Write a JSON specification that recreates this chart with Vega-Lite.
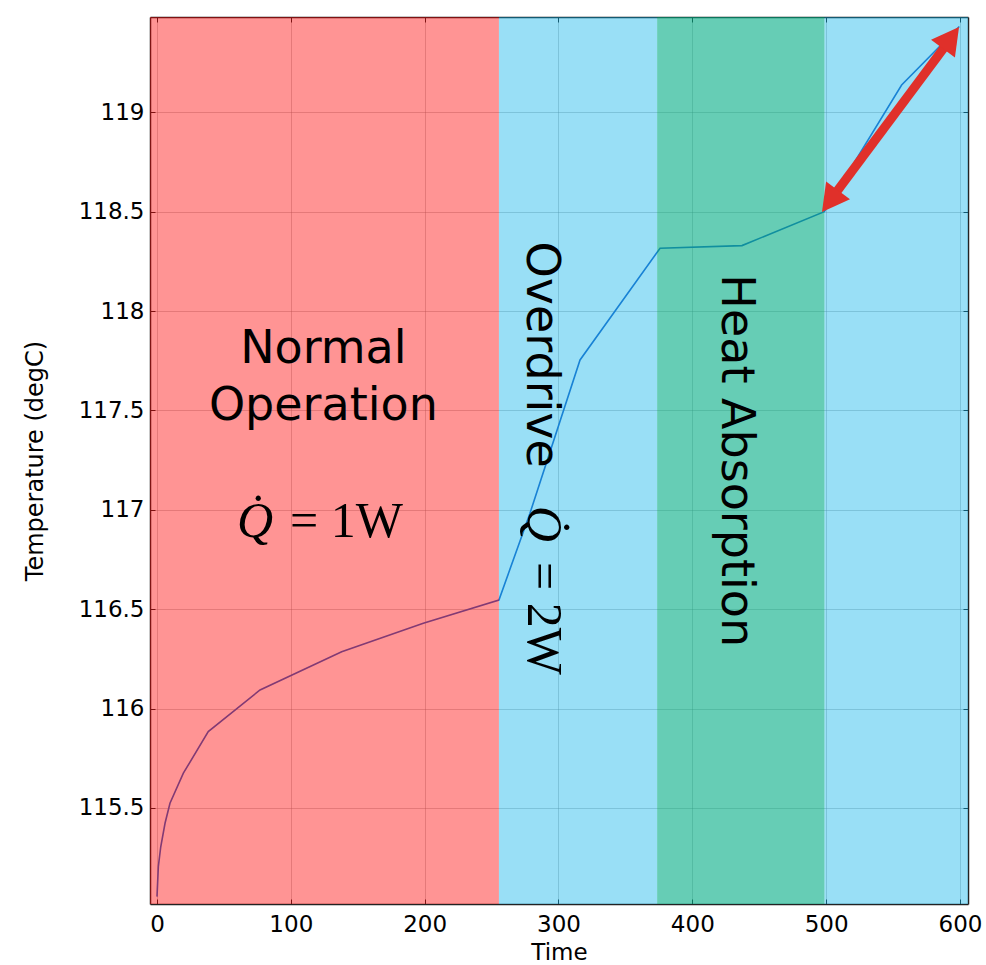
{
  "$schema": "https://vega.github.io/schema/vega-lite/v6.json",
  "width": 818,
  "height": 887,
  "autosize": {"type": "none"},
  "padding": {"left": 150, "top": 17, "right": 18, "bottom": 61},
  "background": "white",
  "config": {
    "view": {"stroke": null},
    "axis": {
      "labelFont": "DejaVu Sans",
      "labelFontSize": 23,
      "labelColor": "#000000",
      "titleFont": "DejaVu Sans",
      "titleFontSize": 23,
      "titleFontWeight": "normal",
      "titleColor": "#000000",
      "domainColor": "#222222",
      "domainWidth": 1.5,
      "tickColor": "#222222",
      "tickSize": -5,
      "tickWidth": 1,
      "gridColor": "#7a7a7a",
      "gridOpacity": 0.35,
      "labelPadding": 9,
      "labelOverlap": false,
      "labelFlush": false
    }
  },
  "layer": [
    {
      "data": {"values": [
        {"t": 0, "T": 115.054},
        {"t": 1.0, "T": 115.205},
        {"t": 2.8, "T": 115.305},
        {"t": 6.0, "T": 115.423},
        {"t": 9.7, "T": 115.524},
        {"t": 19.7, "T": 115.675},
        {"t": 38.3, "T": 115.884},
        {"t": 77, "T": 116.094},
        {"t": 138, "T": 116.286},
        {"t": 199, "T": 116.429},
        {"t": 255.5, "T": 116.546},
        {"t": 278.7, "T": 116.983},
        {"t": 316.1, "T": 117.754},
        {"t": 375.9, "T": 118.316},
        {"t": 437.1, "T": 118.329},
        {"t": 498.6, "T": 118.5},
        {"t": 556.4, "T": 119.137},
        {"t": 599.5, "T": 119.431}
      ]},
      "mark": {"type": "line", "color": "#2864c8", "strokeWidth": 1.6},
      "encoding": {
        "x": {"field": "t", "type": "quantitative",
              "scale": {"domain": [-5.23, 606], "nice": false, "zero": false},
              "axis": {"orient": "bottom", "title": "Time", "values": [0, 100, 200, 300, 400, 500, 600], "format": "d", "grid": true, "labelPadding": 14, "titlePadding": 5}},
        "y": {"field": "T", "type": "quantitative",
              "scale": {"domain": [115.017, 119.479], "nice": false, "zero": false},
              "axis": {"orient": "left", "title": "Temperature (degC)", "titleFontSize": 24, "labelPadding": 11, "values": [115.5, 116, 116.5, 117, 117.5, 118, 118.5, 119], "format": "~g", "grid": true, "titlePadding": 31}}
      }
    },
    {
      "data": {"values": [
        {"start": -5.23, "end": 255.5, "region": "Normal"},
        {"start": 255.5, "end": 373.7, "region": "Overdrive"},
        {"start": 373.7, "end": 498.8, "region": "Absorption"},
        {"start": 498.8, "end": 606, "region": "Overdrive"}
      ]},
      "mark": {"type": "rect"},
      "encoding": {
        "x": {"field": "start", "type": "quantitative",
              "scale": {"domain": [-5.23, 606], "nice": false, "zero": false}, "axis": null},
        "x2": {"field": "end"},
        "color": {"field": "region", "type": "nominal",
                  "scale": {"domain": ["Normal", "Overdrive", "Absorption"], "range": ["#ff0000", "#00afe8", "#00ac84"]}, "legend": null},
        "opacity": {"field": "region", "type": "nominal",
                    "scale": {"type": "ordinal", "domain": ["Normal", "Overdrive", "Absorption"], "range": [0.42, 0.4, 0.6]}, "legend": null}
      }
    },
    {
      "data": {"values": [
        {"t": 124.3, "T": 117.74, "label": "Normal"},
        {"t": 124.3, "T": 117.452, "label": "Operation"}
      ]},
      "mark": {"type": "text", "font": "DejaVu Sans", "fontSize": 46, "align": "center", "baseline": "alphabetic", "color": "#000000"},
      "encoding": {
        "x": {"field": "t", "type": "quantitative", "scale": {"domain": [-5.23, 606], "nice": false, "zero": false}, "axis": null},
        "y": {"field": "T", "type": "quantitative", "scale": {"domain": [115.017, 119.479], "nice": false, "zero": false}, "axis": null},
        "text": {"field": "label"}
      }
    },
    {
      "data": {"values": [
        {"t": 276.2, "T": 117.78, "label": "Overdrive"},
        {"t": 421.9, "T": 117.247, "label": "Heat Absorption"}
      ]},
      "mark": {"type": "text", "font": "DejaVu Sans", "fontSize": 46, "align": "center", "baseline": "alphabetic", "angle": 90, "color": "#000000"},
      "encoding": {
        "x": {"field": "t", "type": "quantitative", "scale": {"domain": [-5.23, 606], "nice": false, "zero": false}, "axis": null},
        "y": {"field": "T", "type": "quantitative", "scale": {"domain": [115.017, 119.479], "nice": false, "zero": false}, "axis": null},
        "text": {"field": "label"}
      }
    },
    {
      "data": {"values": [
        {"t": 141.5, "T": 116.863, "label": "= 1W"}
      ]},
      "mark": {"type": "text", "font": "Liberation Serif", "fontSize": 50, "align": "center", "baseline": "alphabetic", "color": "#000000"},
      "encoding": {
        "x": {"field": "t", "type": "quantitative", "scale": {"domain": [-5.23, 606], "nice": false, "zero": false}, "axis": null},
        "y": {"field": "T", "type": "quantitative", "scale": {"domain": [115.017, 119.479], "nice": false, "zero": false}, "axis": null},
        "text": {"field": "label"}
      }
    },
    {
      "data": {"values": [
        {"t": 73.2, "T": 116.863, "label": "Q̇"}
      ]},
      "mark": {"type": "text", "font": "Liberation Serif", "fontSize": 50, "fontStyle": "italic", "align": "center", "baseline": "alphabetic", "color": "#000000"},
      "encoding": {
        "x": {"field": "t", "type": "quantitative", "scale": {"domain": [-5.23, 606], "nice": false, "zero": false}, "axis": null},
        "y": {"field": "T", "type": "quantitative", "scale": {"domain": [115.017, 119.479], "nice": false, "zero": false}, "axis": null},
        "text": {"field": "label"}
      }
    },
    {
      "data": {"values": [
        {"t": 277.2, "T": 116.453, "label": "= 2W"}
      ]},
      "mark": {"type": "text", "font": "Liberation Serif", "fontSize": 50, "align": "center", "baseline": "alphabetic", "angle": 90, "color": "#000000"},
      "encoding": {
        "x": {"field": "t", "type": "quantitative", "scale": {"domain": [-5.23, 606], "nice": false, "zero": false}, "axis": null},
        "y": {"field": "T", "type": "quantitative", "scale": {"domain": [115.017, 119.479], "nice": false, "zero": false}, "axis": null},
        "text": {"field": "label"}
      }
    },
    {
      "data": {"values": [
        {"t": 277.2, "T": 116.929, "label": "Q̇"}
      ]},
      "mark": {"type": "text", "font": "Liberation Serif", "fontSize": 50, "fontStyle": "italic", "align": "center", "baseline": "alphabetic", "angle": 90, "color": "#000000"},
      "encoding": {
        "x": {"field": "t", "type": "quantitative", "scale": {"domain": [-5.23, 606], "nice": false, "zero": false}, "axis": null},
        "y": {"field": "T", "type": "quantitative", "scale": {"domain": [115.017, 119.479], "nice": false, "zero": false}, "axis": null},
        "text": {"field": "label"}
      }
    },
    {
      "data": {"values": [
        {"t1": 504.5, "T1": 118.57, "t2": 591.7, "T2": 119.357}
      ]},
      "mark": {"type": "rule", "color": "#e0302a", "strokeWidth": 9},
      "encoding": {
        "x": {"field": "t1", "type": "quantitative", "scale": {"domain": [-5.23, 606], "nice": false, "zero": false},
              "axis": {"orient": "top", "title": null, "labels": false, "grid": false, "values": [0, 100, 200, 300, 400, 500, 600]}},
        "y": {"field": "T1", "type": "quantitative", "scale": {"domain": [115.017, 119.479], "nice": false, "zero": false},
              "axis": {"orient": "right", "title": null, "labels": false, "grid": false, "values": [115.5, 116, 116.5, 117, 117.5, 118, 118.5, 119]}},
        "x2": {"field": "t2"},
        "y2": {"field": "T2"}
      }
    },
    {
      "data": {"values": [
        {"t": 599.3, "T": 119.429}
      ]},
      "mark": {"type": "point", "shape": "M0,0L0.55,1L-0.55,1Z", "size": 2916, "filled": true, "color": "#e0302a", "opacity": 1, "strokeWidth": 0, "angle": 36.5},
      "encoding": {
        "x": {"field": "t", "type": "quantitative", "scale": {"domain": [-5.23, 606], "nice": false, "zero": false}, "axis": null},
        "y": {"field": "T", "type": "quantitative", "scale": {"domain": [115.017, 119.479], "nice": false, "zero": false}, "axis": null}
      }
    },
    {
      "data": {"values": [
        {"t": 496.9, "T": 118.498}
      ]},
      "mark": {"type": "point", "shape": "M0,0L0.55,1L-0.55,1Z", "size": 2916, "filled": true, "color": "#e0302a", "opacity": 1, "strokeWidth": 0, "angle": 216.5},
      "encoding": {
        "x": {"field": "t", "type": "quantitative", "scale": {"domain": [-5.23, 606], "nice": false, "zero": false}, "axis": null},
        "y": {"field": "T", "type": "quantitative", "scale": {"domain": [115.017, 119.479], "nice": false, "zero": false}, "axis": null}
      }
    }
  ],
  "resolve": {"axis": {"x": "independent", "y": "independent"}}
}
